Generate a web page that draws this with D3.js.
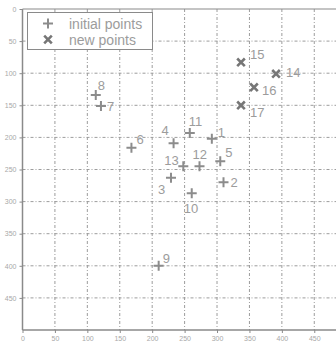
<!DOCTYPE html>
<html>
<head>
<meta charset="utf-8">
<script src="https://cdn.jsdelivr.net/npm/d3@7"></script>
<style>
  html, body { margin: 0; padding: 0; background: #fff; }
  svg { display: block; font-family: "Liberation Sans", Arial, sans-serif; }
</style>
</head>
<body>
<svg id="chart" width="336" height="345"></svg>
<script>
// Initial points (ids 1-13) and new points (ids 14-17), image-style coordinates (y grows downward)
const initialIds = [1, 2, 3, 4, 5, 6, 7, 8, 9, 10, 11, 12, 13];
const initialX   = [292, 310, 229, 233, 305, 168, 121, 113, 210, 261, 258, 273, 248];
const initialY   = [202, 270, 263, 209, 237, 216, 151, 134, 400, 287, 193, 245, 245];

const newIds = [14, 15, 16, 17];
const newX   = [391, 337, 357, 337];
const newY   = [101, 83, 122, 150];

const tickValues = [0, 50, 100, 150, 200, 250, 300, 350, 400, 450];
const legendLabels = ["initial points", "new points"];

// Label placement relative to each marker, in pixels [dx, dy of baseline]
const labelOffsets = {
  1: [6, -2], 2: [7, 5], 3: [-13, 16], 4: [-12, -8], 5: [5, -4], 6: [5, -4],
  7: [6, 5], 8: [2, -5], 9: [4, -3], 10: [-8, 20], 11: [-1, -7], 12: [-7, -7],
  13: [-19, -1], 14: [10, 3], 15: [9, -3], 16: [8, 8], 17: [9, 12]
};

const svg = d3.select("#chart");
const x = d3.scaleLinear().domain([0, 500]).range([22.5, 346.7]);
const y = d3.scaleLinear().domain([0, 500]).range([9, 330]);

const axisColor = "#8a8a8a";
const gridColor = "#9c9c9c";
const tickText = "#a8a8a8";
const markColor = "#8c8c8c";
const newColor = "#767676";
const labelColor = "#9c9c9c";

// Dash-dot grid
const grid = svg.append("g");
tickValues.filter(v => v > 0).forEach(v => {
  grid.append("line")
    .attr("x1", x(v)).attr("x2", x(v))
    .attr("y1", y(0)).attr("y2", y(500))
    .attr("stroke", gridColor).attr("stroke-width", 1)
    .attr("stroke-dasharray", "3,2,1,2");
  grid.append("line")
    .attr("x1", x(0)).attr("x2", x(500))
    .attr("y1", y(v)).attr("y2", y(v))
    .attr("stroke", gridColor).attr("stroke-width", 1)
    .attr("stroke-dasharray", "3,2,1,2");
});

// Frame: top, left, bottom
svg.append("line").attr("x1", x(0)).attr("x2", x(500)).attr("y1", y(0)).attr("y2", y(0))
  .attr("stroke", axisColor).attr("stroke-width", 1.2);

const xAxis = d3.axisBottom(x).tickValues(tickValues).tickSize(3).tickPadding(3)
  .tickFormat(d3.format("d"));
const yAxis = d3.axisLeft(y).tickValues(tickValues).tickSize(3).tickPadding(3)
  .tickFormat(d3.format("d"));

const gx = svg.append("g").attr("transform", `translate(0,${y(500)})`).call(xAxis);
const gy = svg.append("g").attr("transform", `translate(${x(0)},0)`).call(yAxis);
[gx, gy].forEach(g => {
  g.select(".domain").attr("stroke", axisColor).attr("stroke-width", 1.5);
  g.selectAll(".tick line").attr("stroke", axisColor);
  g.selectAll(".tick text").attr("fill", tickText)
    .attr("font-size", 7).attr("font-family", "Liberation Sans, Arial, sans-serif");
});
gx.select(".domain").attr("d", `M${x(0)},0H${x(500)}`);
gy.select(".domain").attr("d", `M0,${y(0)}V${y(500)}`);
gx.selectAll(".tick line").attr("y2", 3);

// Marker painters
function plus(g, cx, cy, r, color, w) {
  g.append("path")
    .attr("d", `M${cx - r},${cy}H${cx + r}M${cx},${cy - r}V${cy + r}`)
    .attr("stroke", color).attr("stroke-width", w).attr("fill", "none");
}
function cross(g, cx, cy, r, color, w) {
  g.append("path")
    .attr("d", `M${cx - r},${cy - r}L${cx + r},${cy + r}M${cx - r},${cy + r}L${cx + r},${cy - r}`)
    .attr("stroke", color).attr("stroke-width", w).attr("fill", "none");
}

const marks = svg.append("g");
const labels = svg.append("g").attr("fill", labelColor).attr("font-size", 13);

initialIds.forEach((id, i) => {
  const cx = x(initialX[i]), cy = y(initialY[i]);
  plus(marks, cx, cy, 5, markColor, 2);
  const [dx, dy] = labelOffsets[id];
  labels.append("text").attr("x", cx + dx).attr("y", cy + dy).text(id);
});

newIds.forEach((id, i) => {
  const cx = x(newX[i]), cy = y(newY[i]);
  cross(marks, cx, cy, 3.8, newColor, 2.6);
  const [dx, dy] = labelOffsets[id];
  labels.append("text").attr("x", cx + dx).attr("y", cy + dy).text(id);
});

// Legend
const lg = svg.append("g");
lg.append("rect").attr("x", 27.5).attr("y", 12.5).attr("width", 125).attr("height", 37)
  .attr("fill", "#fff").attr("stroke", axisColor).attr("stroke-width", 1);
plus(lg, 48, 23.5, 5, markColor, 2);
cross(lg, 48, 39.5, 3.8, newColor, 2.6);
legendLabels.forEach((t, i) => {
  lg.append("text").attr("x", 69).attr("y", 28.5 + i * 16)
    .attr("fill", labelColor).attr("font-size", 14).text(t);
});
</script>
</body>
</html>
